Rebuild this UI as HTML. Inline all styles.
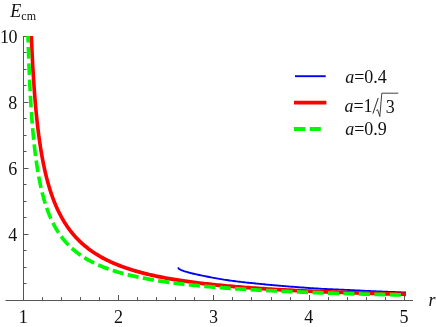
<!DOCTYPE html>
<html><head><meta charset="utf-8"><style>
html,body{margin:0;padding:0;background:#fff;}
svg{display:block;}
text{font-family:"Liberation Serif",serif;font-size:18px;fill:#000;}
.ax line{stroke:#555;stroke-width:1;}
</style></head><body>
<svg width="436" height="327" viewBox="0 0 436 327">
<rect width="436" height="327" fill="#fff"/>
<g class="ax">
<line x1="5.5" y1="300.5" x2="413" y2="300.5"/>
<line x1="23.5" y1="36" x2="23.5" y2="300.5"/>
<line x1="23.5" y1="300.5" x2="23.5" y2="295.0"/>
<line x1="42.5" y1="300.5" x2="42.5" y2="297.1"/>
<line x1="61.5" y1="300.5" x2="61.5" y2="297.1"/>
<line x1="80.5" y1="300.5" x2="80.5" y2="297.1"/>
<line x1="99.5" y1="300.5" x2="99.5" y2="297.1"/>
<line x1="118.5" y1="300.5" x2="118.5" y2="295.0"/>
<line x1="137.5" y1="300.5" x2="137.5" y2="297.1"/>
<line x1="156.5" y1="300.5" x2="156.5" y2="297.1"/>
<line x1="175.5" y1="300.5" x2="175.5" y2="297.1"/>
<line x1="194.5" y1="300.5" x2="194.5" y2="297.1"/>
<line x1="213.5" y1="300.5" x2="213.5" y2="295.0"/>
<line x1="232.5" y1="300.5" x2="232.5" y2="297.1"/>
<line x1="251.5" y1="300.5" x2="251.5" y2="297.1"/>
<line x1="271.5" y1="300.5" x2="271.5" y2="297.1"/>
<line x1="290.5" y1="300.5" x2="290.5" y2="297.1"/>
<line x1="309.5" y1="300.5" x2="309.5" y2="295.0"/>
<line x1="328.5" y1="300.5" x2="328.5" y2="297.1"/>
<line x1="347.5" y1="300.5" x2="347.5" y2="297.1"/>
<line x1="366.5" y1="300.5" x2="366.5" y2="297.1"/>
<line x1="385.5" y1="300.5" x2="385.5" y2="297.1"/>
<line x1="404.5" y1="300.5" x2="404.5" y2="295.0"/>
<line x1="23.5" y1="300.5" x2="28.5" y2="300.5"/>
<line x1="23.5" y1="283.5" x2="26.5" y2="283.5"/>
<line x1="23.5" y1="267.5" x2="26.5" y2="267.5"/>
<line x1="23.5" y1="250.5" x2="26.5" y2="250.5"/>
<line x1="23.5" y1="234.5" x2="28.5" y2="234.5"/>
<line x1="23.5" y1="217.5" x2="26.5" y2="217.5"/>
<line x1="23.5" y1="201.5" x2="26.5" y2="201.5"/>
<line x1="23.5" y1="184.5" x2="26.5" y2="184.5"/>
<line x1="23.5" y1="168.5" x2="28.5" y2="168.5"/>
<line x1="23.5" y1="151.5" x2="26.5" y2="151.5"/>
<line x1="23.5" y1="135.5" x2="26.5" y2="135.5"/>
<line x1="23.5" y1="118.5" x2="26.5" y2="118.5"/>
<line x1="23.5" y1="102.5" x2="28.5" y2="102.5"/>
<line x1="23.5" y1="85.5" x2="26.5" y2="85.5"/>
<line x1="23.5" y1="69.5" x2="26.5" y2="69.5"/>
<line x1="23.5" y1="52.5" x2="26.5" y2="52.5"/>
<line x1="23.5" y1="36.5" x2="28.5" y2="36.5"/>
</g>
<g fill="none" stroke-linejoin="round" transform="scale(1,1.05)">
<path d="M177.90,254.76 L178.84,255.86 L179.96,256.65 L181.29,257.22 L182.68,257.71 L184.04,258.17 L185.42,258.60 L186.81,259.01 L188.20,259.40 L189.60,259.77 L191.00,260.12 L192.41,260.45 L193.83,260.76 L195.24,261.06 L196.66,261.35 L198.08,261.64 L199.50,261.93 L200.92,262.21 L202.34,262.49 L203.76,262.77 L205.18,263.04 L206.61,263.32 L208.03,263.59 L209.45,263.86 L210.87,264.13 L212.30,264.40 L213.72,264.66 L215.15,264.92 L216.57,265.16 L218.00,265.40 L219.43,265.63 L220.87,265.86 L222.30,266.08 L223.73,266.29 L225.17,266.50 L226.60,266.71 L228.04,266.91 L229.47,267.10 L230.91,267.29 L232.35,267.48 L233.78,267.66 L235.22,267.84 L236.66,268.01 L238.10,268.18 L239.54,268.34 L240.98,268.50 L242.43,268.66 L243.87,268.81 L245.31,268.96 L246.75,269.11 L248.20,269.25 L249.64,269.39 L251.08,269.53 L252.53,269.67 L253.97,269.81 L255.41,269.95 L256.86,270.09 L258.30,270.23 L259.74,270.36 L261.19,270.50 L262.63,270.63 L264.08,270.76 L265.52,270.90 L266.97,271.02 L268.41,271.15 L269.85,271.28 L271.30,271.40 L272.74,271.53 L274.19,271.65 L275.63,271.77 L277.08,271.89 L278.53,272.01 L279.97,272.13 L281.42,272.25 L282.86,272.36 L284.31,272.48 L285.75,272.59 L287.20,272.71 L288.65,272.82 L290.09,272.93 L291.54,273.04 L292.99,273.15 L294.43,273.25 L295.88,273.36 L297.32,273.46 L298.77,273.57 L300.22,273.67 L301.67,273.77 L303.11,273.87 L304.56,273.97 L306.01,274.07 L307.45,274.16 L308.90,274.26 L310.35,274.36 L311.80,274.45 L313.24,274.55 L314.69,274.64 L316.14,274.73 L317.59,274.82 L319.04,274.90 L320.48,274.99 L321.93,275.07 L323.38,275.14 L324.83,275.21 L326.28,275.28 L327.73,275.35 L329.18,275.41 L330.63,275.47 L332.08,275.54 L333.52,275.59 L334.97,275.65 L336.42,275.71 L337.87,275.77 L339.32,275.82 L340.77,275.88 L342.22,275.94 L343.67,275.99 L345.12,276.05 L346.57,276.12 L348.02,276.18 L349.47,276.24 L350.92,276.31 L352.37,276.38 L353.82,276.44 L355.27,276.51 L356.72,276.58 L358.16,276.65 L359.61,276.72 L361.06,276.79 L362.51,276.86 L363.96,276.92 L365.41,276.99 L366.86,277.05 L368.31,277.12 L369.76,277.18 L371.21,277.24 L372.66,277.31 L374.11,277.37 L375.56,277.43 L377.01,277.49 L378.45,277.55 L379.90,277.61 L381.35,277.67 L382.80,277.72 L384.25,277.78 L385.70,277.84 L387.15,277.89 L388.60,277.95 L390.05,278.00 L391.50,278.06 L392.95,278.11 L394.40,278.16 L395.85,278.22 L397.30,278.27 L398.75,278.32 L400.20,278.37 L401.65,278.42 L403.10,278.47 L404.55,278.52 L406.00,278.57" stroke="#0000f4" stroke-width="1.8"/>
<path d="M31.36,34.29 L31.41,35.50 L31.49,37.45 L31.58,39.38 L31.66,41.30 L31.75,43.19 L31.84,45.07 L31.93,46.93 L32.02,48.77 L32.11,50.59 L32.20,52.40 L32.30,54.19 L32.39,55.96 L32.48,57.71 L32.58,59.45 L32.68,61.18 L32.78,62.88 L32.87,64.58 L32.97,66.25 L33.08,67.91 L33.18,69.56 L33.28,71.19 L33.39,72.81 L33.49,74.41 L33.60,76.00 L33.71,77.58 L33.82,79.14 L33.93,80.69 L34.04,82.23 L34.15,83.75 L34.26,85.26 L34.38,86.76 L34.49,88.25 L34.61,89.72 L34.73,91.18 L34.85,92.63 L34.97,94.07 L35.09,95.50 L35.22,96.91 L35.34,98.32 L35.47,99.71 L35.60,101.09 L35.73,102.46 L35.86,103.82 L35.99,105.17 L36.12,106.51 L36.26,107.84 L36.39,109.16 L36.53,110.47 L36.67,111.77 L36.81,113.07 L36.95,114.35 L37.10,115.62 L37.24,116.88 L37.39,118.14 L37.54,119.38 L37.69,120.62 L37.84,121.84 L37.99,123.06 L38.15,124.27 L38.30,125.47 L38.46,126.67 L38.62,127.85 L38.78,129.03 L38.95,130.20 L39.11,131.36 L39.28,132.51 L39.45,133.65 L39.62,134.79 L39.79,135.92 L39.96,137.04 L40.14,138.16 L40.32,139.27 L40.50,140.37 L40.68,141.46 L40.86,142.54 L41.05,143.62 L41.24,144.70 L41.43,145.76 L41.62,146.82 L41.81,147.87 L42.01,148.92 L42.20,149.95 L42.40,150.99 L42.61,152.01 L42.81,153.03 L43.02,154.04 L43.22,155.05 L43.44,156.05 L43.65,157.04 L43.86,158.03 L44.08,159.01 L44.30,159.99 L44.52,160.96 L44.75,161.92 L44.97,162.88 L45.20,163.83 L45.44,164.78 L45.67,165.72 L45.91,166.66 L46.15,167.59 L46.39,168.51 L46.63,169.43 L46.88,170.34 L47.13,171.25 L47.38,172.15 L47.64,173.05 L47.90,173.94 L48.16,174.83 L48.42,175.71 L48.69,176.59 L48.95,177.46 L49.23,178.33 L49.50,179.19 L49.78,180.04 L50.06,180.90 L50.34,181.74 L50.63,182.58 L50.92,183.42 L51.21,184.25 L51.51,185.08 L51.81,185.90 L52.11,186.72 L52.42,187.53 L52.73,188.34 L53.04,189.14 L53.35,189.94 L53.67,190.73 L53.99,191.52 L54.32,192.30 L54.65,193.08 L54.98,193.86 L55.32,194.63 L55.66,195.39 L56.00,196.16 L56.35,196.91 L56.70,197.67 L57.06,198.41 L57.41,199.16 L57.78,199.90 L58.14,200.63 L58.51,201.36 L58.89,202.09 L59.26,202.81 L59.65,203.53 L60.03,204.24 L60.42,204.95 L60.82,205.66 L61.22,206.36 L61.62,207.06 L62.03,207.75 L62.44,208.44 L62.85,209.12 L63.27,209.80 L63.70,210.48 L64.13,211.15 L64.56,211.82 L65.00,212.48 L65.44,213.14 L65.89,213.80 L66.35,214.45 L66.80,215.10 L67.27,215.74 L67.73,216.38 L68.21,217.01 L68.68,217.65 L69.17,218.27 L69.65,218.90 L70.15,219.52 L70.65,220.13 L71.15,220.74 L71.66,221.35 L72.17,221.95 L72.69,222.55 L73.22,223.15 L73.75,223.74 L74.29,224.33 L74.83,224.92 L75.38,225.50 L75.93,226.07 L76.49,226.65 L77.06,227.22 L77.63,227.78 L78.21,228.34 L78.79,228.90 L79.38,229.46 L79.98,230.01 L80.58,230.55 L81.19,231.10 L81.81,231.64 L82.43,232.17 L83.06,232.70 L83.70,233.23 L84.34,233.76 L84.99,234.28 L85.65,234.79 L86.31,235.31 L86.98,235.82 L87.66,236.32 L88.35,236.83 L89.04,237.33 L89.74,237.82 L90.45,238.31 L91.16,238.80 L91.89,239.29 L92.62,239.77 L93.36,240.24 L94.10,240.72 L94.86,241.19 L95.62,241.66 L96.39,242.12 L97.17,242.58 L97.96,243.04 L98.75,243.49 L99.55,243.94 L100.37,244.39 L101.19,244.83 L102.02,245.27 L102.86,245.70 L103.71,246.14 L104.56,246.57 L105.43,246.99 L106.30,247.41 L107.19,247.83 L108.08,248.25 L108.99,248.66 L109.90,249.07 L110.82,249.48 L111.76,249.88 L112.70,250.28 L113.65,250.67 L114.61,251.07 L115.59,251.46 L116.57,251.84 L117.57,252.23 L118.57,252.61 L119.59,252.98 L120.61,253.36 L121.65,253.73 L122.70,254.09 L123.76,254.46 L124.83,254.82 L125.91,255.18 L127.01,255.53 L128.11,255.88 L129.23,256.23 L130.36,256.57 L131.50,256.92 L132.65,257.26 L133.82,257.59 L135.00,257.93 L136.19,258.26 L137.39,258.58 L138.61,258.91 L139.84,259.23 L141.08,259.55 L142.34,259.86 L143.61,260.17 L144.89,260.48 L146.19,260.79 L147.50,261.09 L148.83,261.40 L150.16,261.69 L151.52,261.99 L152.89,262.28 L154.27,262.57 L155.66,262.86 L157.08,263.14 L158.50,263.42 L159.95,263.70 L161.40,263.98 L162.88,264.25 L164.37,264.52 L165.87,264.79 L167.39,265.05 L168.93,265.32 L170.48,265.58 L172.05,265.83 L173.64,266.09 L175.24,266.34 L176.87,266.59 L178.50,266.84 L180.16,267.08 L181.83,267.32 L183.53,267.56 L185.23,267.80 L186.96,268.04 L188.71,268.27 L190.47,268.50 L192.26,268.72 L194.06,268.95 L195.88,269.17 L197.72,269.39 L199.59,269.61 L201.47,269.83 L203.37,270.04 L205.29,270.25 L207.23,270.46 L209.20,270.66 L211.18,270.87 L213.18,271.07 L215.21,271.27 L217.26,271.47 L219.33,271.66 L221.42,271.85 L223.54,272.05 L225.67,272.23 L227.83,272.42 L230.02,272.60 L232.22,272.79 L234.45,272.97 L236.71,273.15 L238.98,273.32 L241.29,273.50 L243.61,273.67 L245.96,273.84 L248.34,274.01 L250.74,274.17 L253.17,274.34 L255.62,274.50 L258.10,274.66 L260.61,274.82 L263.14,274.97 L265.70,275.13 L268.29,275.28 L270.91,275.43 L273.55,275.58 L276.22,275.73 L278.92,275.88 L281.65,276.02 L284.41,276.16 L287.19,276.30 L290.01,276.44 L292.86,276.58 L295.74,276.71 L298.64,276.85 L301.58,276.98 L304.56,277.11 L307.56,277.24 L310.59,277.36 L313.66,277.49 L316.76,277.61 L319.89,277.74 L323.06,277.86 L326.26,277.98 L329.49,278.09 L332.76,278.21 L336.07,278.33 L339.41,278.44 L342.78,278.55 L346.19,278.66 L349.64,278.77 L353.12,278.88 L356.65,278.98 L360.20,279.09 L363.80,279.19 L367.44,279.29 L371.11,279.39 L374.83,279.49 L378.58,279.59 L382.37,279.69 L386.21,279.78 L390.08,279.88 L394.00,279.97 L397.96,280.06 L401.96,280.15 L406.00,280.24" stroke="#ff0000" stroke-width="3.6"/>
<path d="M27.98,34.29 L28.00,34.90 L28.05,36.46 L28.10,38.01 L28.15,39.54 L28.20,41.08 L28.25,42.60 L28.30,44.11 L28.35,45.62 L28.40,47.11 L28.45,48.60 L28.51,50.08 L28.56,51.55 L28.62,53.02 L28.67,54.47 L28.73,55.92 L28.78,57.36 L28.84,58.79 L28.89,60.22 L28.95,61.63 L29.01,63.04 L29.07,64.44 L29.13,65.84 L29.19,67.22 L29.25,68.60 L29.31,69.97 L29.37,71.34 L29.44,72.69 L29.50,74.04 L29.56,75.38 L29.63,76.72 L29.69,78.04 L29.76,79.36 L29.83,80.67 L29.89,81.98 L29.96,83.28 L30.03,84.57 L30.10,85.85 L30.17,87.13 L30.24,88.40 L30.32,89.66 L30.39,90.92 L30.46,92.17 L30.54,93.41 L30.61,94.65 L30.69,95.88 L30.76,97.10 L30.84,98.32 L30.92,99.53 L31.00,100.74 L31.08,101.93 L31.16,103.12 L31.24,104.31 L31.32,105.49 L31.41,106.66 L31.49,107.83 L31.58,108.98 L31.66,110.14 L31.75,111.29 L31.84,112.43 L31.93,113.56 L32.02,114.69 L32.11,115.81 L32.20,116.93 L32.30,118.04 L32.39,119.15 L32.48,120.25 L32.58,121.34 L32.68,122.43 L32.78,123.51 L32.87,124.59 L32.97,125.66 L33.08,126.72 L33.18,127.78 L33.28,128.84 L33.39,129.88 L33.49,130.93 L33.60,131.96 L33.71,132.99 L33.82,134.02 L33.93,135.04 L34.04,136.06 L34.15,137.07 L34.26,138.07 L34.38,139.07 L34.49,140.06 L34.61,141.05 L34.73,142.04 L34.85,143.01 L34.97,143.99 L35.09,144.95 L35.22,145.92 L35.34,146.87 L35.47,147.83 L35.60,148.77 L35.73,149.72 L35.86,150.65 L35.99,151.58 L36.12,152.51 L36.26,153.43 L36.39,154.35 L36.53,155.26 L36.67,156.17 L36.81,157.07 L36.95,157.97 L37.10,158.87 L37.24,159.75 L37.39,160.64 L37.54,161.52 L37.69,162.39 L37.84,163.26 L37.99,164.13 L38.15,164.99 L38.30,165.84 L38.46,166.69 L38.62,167.54 L38.78,168.38 L38.95,169.22 L39.11,170.05 L39.28,170.88 L39.45,171.70 L39.62,172.52 L39.79,173.34 L39.96,174.15 L40.14,174.95 L40.32,175.76 L40.50,176.55 L40.68,177.35 L40.86,178.14 L41.05,178.92 L41.24,179.70 L41.43,180.48 L41.62,181.25 L41.81,182.02 L42.01,182.78 L42.20,183.54 L42.40,184.29 L42.61,185.04 L42.81,185.79 L43.02,186.53 L43.22,187.27 L43.44,188.01 L43.65,188.74 L43.86,189.46 L44.08,190.19 L44.30,190.90 L44.52,191.62 L44.75,192.33 L44.97,193.04 L45.20,193.74 L45.44,194.44 L45.67,195.13 L45.91,195.82 L46.15,196.51 L46.39,197.19 L46.63,197.87 L46.88,198.55 L47.13,199.22 L47.38,199.88 L47.64,200.55 L47.90,201.21 L48.16,201.86 L48.42,202.52 L48.69,203.17 L48.95,203.81 L49.23,204.45 L49.50,205.09 L49.78,205.73 L50.06,206.36 L50.34,206.98 L50.63,207.61 L50.92,208.23 L51.21,208.84 L51.51,209.45 L51.81,210.06 L52.11,210.67 L52.42,211.27 L52.73,211.87 L53.04,212.46 L53.35,213.05 L53.67,213.64 L53.99,214.23 L54.32,214.81 L54.65,215.38 L54.98,215.96 L55.32,216.53 L55.66,217.10 L56.00,217.66 L56.35,218.22 L56.70,218.78 L57.06,219.33 L57.41,219.88 L57.78,220.43 L58.14,220.97 L58.51,221.51 L58.89,222.05 L59.26,222.58 L59.65,223.12 L60.03,223.64 L60.42,224.17 L60.82,224.69 L61.22,225.21 L61.62,225.72 L62.03,226.23 L62.44,226.74 L62.85,227.25 L63.27,227.75 L63.70,228.25 L64.13,228.74 L64.56,229.23 L65.00,229.72 L65.44,230.21 L65.89,230.69 L66.35,231.17 L66.80,231.65 L67.27,232.12 L67.73,232.60 L68.21,233.06 L68.68,233.53 L69.17,233.99 L69.65,234.45 L70.15,234.91 L70.65,235.36 L71.15,235.81 L71.66,236.26 L72.17,236.70 L72.69,237.14 L73.22,237.58 L73.75,238.02 L74.29,238.45 L74.83,238.88 L75.38,239.31 L75.93,239.73 L76.49,240.15 L77.06,240.57 L77.63,240.99 L78.21,241.40 L78.79,241.81 L79.38,242.22 L79.98,242.62 L80.58,243.02 L81.19,243.42 L81.81,243.82 L82.43,244.21 L83.06,244.60 L83.70,244.99 L84.34,245.38 L84.99,245.76 L85.65,246.14 L86.31,246.52 L86.98,246.89 L87.66,247.27 L88.35,247.64 L89.04,248.00 L89.74,248.37 L90.45,248.73 L91.16,249.09 L91.89,249.44 L92.62,249.80 L93.36,250.15 L94.10,250.50 L94.86,250.85 L95.62,251.19 L96.39,251.53 L97.17,251.87 L97.96,252.21 L98.75,252.54 L99.55,252.87 L100.37,253.20 L101.19,253.53 L102.02,253.85 L102.86,254.18 L103.71,254.50 L104.56,254.81 L105.43,255.13 L106.30,255.44 L107.19,255.75 L108.08,256.06 L108.99,256.36 L109.90,256.67 L110.82,256.97 L111.76,257.27 L112.70,257.56 L113.65,257.86 L114.61,258.15 L115.59,258.44 L116.57,258.72 L117.57,259.01 L118.57,259.29 L119.59,259.57 L120.61,259.85 L121.65,260.12 L122.70,260.40 L123.76,260.67 L124.83,260.94 L125.91,261.21 L127.01,261.47 L128.11,261.73 L129.23,262.00 L130.36,262.25 L131.50,262.51 L132.65,262.77 L133.82,263.02 L135.00,263.27 L136.19,263.52 L137.39,263.76 L138.61,264.01 L139.84,264.25 L141.08,264.49 L142.34,264.73 L143.61,264.96 L144.89,265.20 L146.19,265.43 L147.50,265.66 L148.83,265.89 L150.16,266.11 L151.52,266.34 L152.89,266.56 L154.27,266.78 L155.66,267.00 L157.08,267.22 L158.50,267.43 L159.95,267.64 L161.40,267.85 L162.88,268.06 L164.37,268.27 L165.87,268.48 L167.39,268.68 L168.93,268.88 L170.48,269.08 L172.05,269.28 L173.64,269.48 L175.24,269.67 L176.87,269.86 L178.50,270.06 L180.16,270.24 L181.83,270.43 L183.53,270.62 L185.23,270.80 L186.96,270.99 L188.71,271.17 L190.47,271.35 L192.26,271.52 L194.06,271.70 L195.88,271.87 L197.72,272.05 L199.59,272.22 L201.47,272.39 L203.37,272.55 L205.29,272.72 L207.23,272.88 L209.20,273.05 L211.18,273.21 L213.18,273.37 L215.21,273.53 L217.26,273.68 L219.33,273.84 L221.42,273.99 L223.54,274.14 L225.67,274.29 L227.83,274.44 L230.02,274.59 L232.22,274.74 L234.45,274.88 L236.71,275.03 L238.98,275.17 L241.29,275.31 L243.61,275.45 L245.96,275.58 L248.34,275.72 L250.74,275.85 L253.17,275.99 L255.62,276.12 L258.10,276.25 L260.61,276.38 L263.14,276.51 L265.70,276.63 L268.29,276.76 L270.91,276.88 L273.55,277.01 L276.22,277.13 L278.92,277.25 L281.65,277.37 L284.41,277.48 L287.19,277.60 L290.01,277.72 L292.86,277.83 L295.74,277.94 L298.64,278.05 L301.58,278.16 L304.56,278.27 L307.56,278.38 L310.59,278.49 L313.66,278.59 L316.76,278.70 L319.89,278.80 L323.06,278.90 L326.26,279.00 L329.49,279.10 L332.76,279.20 L336.07,279.30 L339.41,279.39 L342.78,279.49 L346.19,279.58 L349.64,279.68 L353.12,279.77 L356.65,279.86 L360.20,279.95 L363.80,280.04 L367.44,280.13 L371.11,280.21 L374.83,280.30 L378.58,280.38 L382.37,280.47 L386.21,280.55 L390.08,280.63 L394.00,280.71 L397.96,280.79 L401.96,280.87" stroke="#00f800" stroke-width="3.6" stroke-dasharray="11.1 4.38" stroke-dashoffset="4.95"/>
<line x1="295" y1="72.57" x2="325.7" y2="72.57" stroke="#0000f4" stroke-width="1.8"/>
<line x1="294" y1="97.71" x2="326.4" y2="97.71" stroke="#ff0000" stroke-width="3.6"/>
<line x1="294" y1="122.86" x2="321" y2="122.86" stroke="#00f800" stroke-width="3.6" stroke-dasharray="11.1 4.6"/>
</g>
<g opacity="0.94">
<text transform="translate(23.20,323.20) scale(1,1.0)" text-anchor="middle">1</text>
<text transform="translate(118.40,323.20) scale(1,1.0)" text-anchor="middle">2</text>
<text transform="translate(213.60,323.20) scale(1,1.0)" text-anchor="middle">3</text>
<text transform="translate(308.80,323.20) scale(1,1.0)" text-anchor="middle">4</text>
<text transform="translate(404.00,323.20) scale(1,1.0)" text-anchor="middle">5</text>
<text transform="translate(17.30,241.04) scale(1,1.0)" text-anchor="end">4</text>
<text transform="translate(17.30,174.98) scale(1,1.0)" text-anchor="end">6</text>
<text transform="translate(17.30,108.92) scale(1,1.0)" text-anchor="end">8</text>
<text transform="translate(17.00,42.86) scale(1,1.0)" text-anchor="end" letter-spacing="-0.5">10</text>
<text transform="translate(10.30,16.80) scale(1,1.0)" font-style="italic">E<tspan font-style="normal" font-size="12" dy="2.7">cm</tspan></text>
<text transform="translate(428.60,306.20) scale(1,1.0)" font-style="italic">r</text>
<text transform="translate(345.20,82.90) scale(1,1.0)" ><tspan font-style="italic">a</tspan>=0.4</text>
<text transform="translate(344.40,111.80) scale(1,1.0)" ><tspan font-style="italic">a</tspan>=1</text>
<text transform="translate(385.70,113.20) scale(1,1.0)" font-size="15.6">3</text>
<path d="M372.9,113.6 L378.2,98" fill="none" stroke="#000" stroke-width="0.9"/>
<path d="M376.2,110.6 L377.6,109.7 L379.8,116.5 L381.8,93.2 L398.3,93.2" fill="none" stroke="#000" stroke-width="0.8"/>
<text transform="translate(345.20,134.90) scale(1,1.0)" ><tspan font-style="italic">a</tspan>=0.9</text>
</g>
</svg>
</body></html>
